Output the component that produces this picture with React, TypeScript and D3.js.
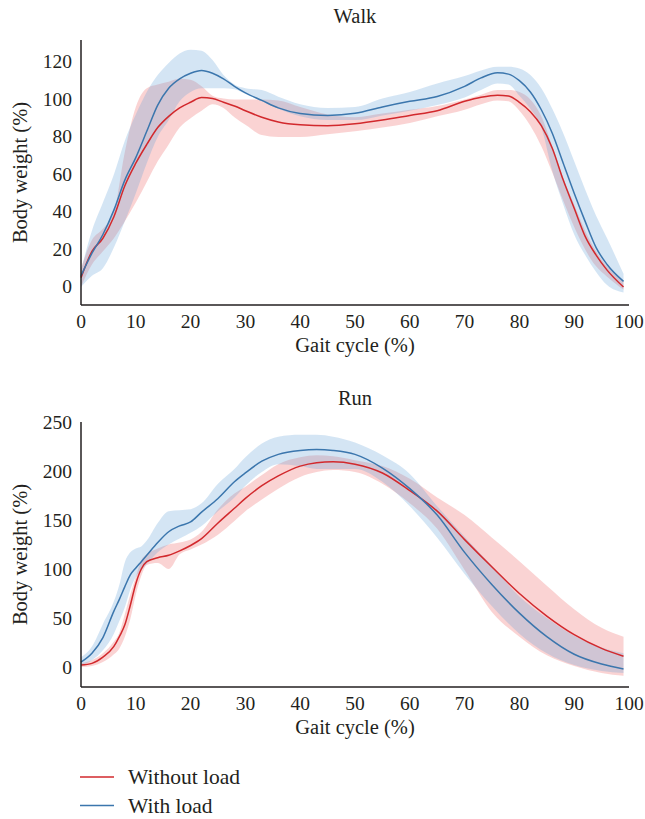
import React from "react";
import * as d3 from "d3";

// ---------- DATA ----------
const walkX = [0, 2, 4, 6, 8, 10, 12, 14, 16, 18, 20, 22, 24, 26, 28, 30, 33, 36, 40, 45, 50, 55, 60, 65, 70, 73, 76, 78, 80, 82, 84, 86, 88, 90, 92, 94, 96, 99];
const walkWithMean = [6, 18, 28, 41, 57, 69, 83, 97, 106, 111, 114, 115.5, 114, 111, 107, 103.5, 99.5, 95.5, 92.5, 91.5, 92.6, 96, 99, 101.6, 107, 111.5, 114.2, 113.5, 110, 104, 94.5, 82, 66, 50, 35, 21, 12, 3];
const walkWithUpper = [9, 30, 45, 60, 78, 92, 104, 113, 119.5, 124.5, 126.5, 126, 121, 113, 108, 106, 105, 101.5, 97.5, 95.5, 96, 100.5, 104, 108.5, 112.5, 115.5, 117.5, 117.5, 116.5, 113, 106, 95, 82, 67, 52, 38, 26, 7];
const walkWithLower = [0, 6, 10, 21, 35, 50, 66, 80, 89, 99, 104, 106, 106, 106, 105.5, 103, 99, 95, 91, 89, 89, 91.5, 94, 97, 101, 105, 108.5, 108, 102, 95, 85, 62, 44, 28, 17, 8, 1, -3];
const walkWithoutMean = [5, 19, 26, 37.5, 54, 66, 76, 85, 91, 95.5, 98.5, 101, 100.5, 98.5, 96.5, 94, 90.5, 88, 86.5, 86, 87, 89, 91.5, 94, 99, 101.2, 102.3, 101.8, 98.5, 93.5, 86, 74, 57, 42, 27, 17, 9, 0];
const walkWithoutUpper = [10, 25, 31, 40, 72, 96, 106, 108, 109.5, 111, 110.5, 107, 102, 100.5, 100, 100, 100, 99.5, 96, 92, 90.5, 92.5, 94.5, 96.5, 100, 102.5, 105, 105, 104, 100, 91, 75, 58, 44, 30, 19, 11, 3];
const walkWithoutLower = [0, 12, 19, 26, 35, 45, 56, 67, 76, 85, 90, 94, 97.5, 95.5, 90.5, 86.5, 81, 80, 80, 81.5, 83, 85, 87.5, 91, 94.5, 97.5, 99.5, 99, 94, 86, 75, 61, 46, 32, 20, 11, 5.5, -1.5];

const runX = [0, 2, 4, 6, 7, 8, 9, 10, 11, 12, 14, 16, 18, 20, 22, 25, 28, 30, 33, 36, 40, 43, 46, 50, 55, 60, 65, 70, 75, 80, 85, 90, 95, 99];
const runWithMean = [6, 15, 31, 58, 70, 83, 95, 102, 108.5, 115, 128, 139, 145, 149, 159, 173, 190, 199, 211, 218, 222, 223, 222, 218, 204, 183, 156, 118, 85, 56, 32, 14, 4, -1];
const runWithUpper = [11, 22, 45, 68, 85, 108, 118, 122, 124, 130, 148, 160, 161, 162, 168, 188, 203, 215, 229, 236, 238, 238, 236, 230, 217, 198, 165, 134, 104, 73, 51, 33, 21, 15];
const runWithLower = [3, 8, 18, 35, 48, 62, 80, 93, 100, 106, 118, 126, 132, 138, 145, 160, 174, 186, 200, 208, 206, 203, 203, 203, 190, 165, 133, 96, 63, 35, 15, 3, -3, -5];
const runWithoutMean = [3, 4.7, 11, 22, 32, 44, 64, 86, 101, 108.5, 112.5, 115, 119.5, 125, 132, 148, 163, 173, 186, 196, 206, 209.5, 210.5, 208, 199, 181, 160, 131, 103, 76, 53, 34, 20, 12];
const runWithoutUpper = [5, 8, 15, 27, 36, 55, 75, 93, 110, 116, 122, 126, 128, 131, 139, 162, 178, 185, 197, 208, 215, 217, 216, 212, 206, 193, 174, 156, 133, 109, 84, 60, 41, 32];
const runWithoutLower = [1, 2, 6, 14, 20, 32, 50, 75, 94, 105, 107, 101, 116, 121, 126, 136, 150, 160, 172, 183, 195, 200, 202, 200, 188, 168, 142, 100, 57, 32, 13, 2, -5, -8];

const xTicks = [0, 10, 20, 30, 40, 50, 60, 70, 80, 90, 100];
const walkYTicks = [0, 20, 40, 60, 80, 100, 120];
const runYTicks = [0, 50, 100, 150, 200, 250];

const seriesNames = ["Without load", "With load"];

// ---------- STYLE ----------
const RED = "#d2292d";
const BLUE = "#3b76ad";
const RED_FILL = "rgb(236,96,96)";
const BLUE_FILL = "rgb(100,160,215)";
const TEXT = "#231f20";
const FONT = "'Liberation Serif', 'Times New Roman', serif";

type PanelProps = {
  title: string;
  xs: number[];
  withMean: number[];
  withUpper: number[];
  withLower: number[];
  withoutMean: number[];
  withoutUpper: number[];
  withoutLower: number[];
  yDomain: [number, number];
  yTicks: number[];
  top: number;
  bottom: number;
};

const LEFT = 81;
const RIGHT = 629;

function Panel(p: PanelProps) {
  const x = d3.scaleLinear().domain([0, 100]).range([LEFT, RIGHT]);
  const y = d3.scaleLinear().domain(p.yDomain).range([p.bottom, p.top]);
  const idx = p.xs.map((_, i) => i);
  const area = (up: number[], lo: number[]) =>
    d3
      .area<number>()
      .x((i) => x(p.xs[i]))
      .y0((i) => y(lo[i]))
      .y1((i) => y(up[i]))
      .curve(d3.curveMonotoneX)(idx) || "";
  const line = (m: number[]) =>
    d3
      .line<number>()
      .x((i) => x(p.xs[i]))
      .y((i) => y(m[i]))
      .curve(d3.curveMonotoneX)(idx) || "";
  const midX = (LEFT + RIGHT) / 2;
  const midY = (p.top + p.bottom) / 2;
  return (
    <g>
      <path d={area(p.withoutUpper, p.withoutLower)} fill={RED_FILL} fillOpacity={0.28} />
      <path d={area(p.withUpper, p.withLower)} fill={BLUE_FILL} fillOpacity={0.28} />
      <path d={line(p.withoutMean)} fill="none" stroke={RED} strokeWidth={1.5} />
      <path d={line(p.withMean)} fill="none" stroke={BLUE} strokeWidth={1.5} />
      <line x1={LEFT} x2={LEFT} y1={p.top} y2={p.bottom} stroke={TEXT} strokeWidth={1.5} />
      <line x1={LEFT} x2={RIGHT} y1={p.bottom} y2={p.bottom} stroke={TEXT} strokeWidth={1.5} />
      {p.yTicks.map((t) => (
        <text key={"y" + t} x={72} y={y(t) + 6.5} textAnchor="end" fontSize={19.5} fill={TEXT}>
          {t}
        </text>
      ))}
      {xTicks.map((t) => (
        <text key={"x" + t} x={x(t)} y={p.bottom + 23} textAnchor="middle" fontSize={19.5} fill={TEXT}>
          {t}
        </text>
      ))}
      <text x={midX} y={p.top - 17} textAnchor="middle" fontSize={20.5} fill={TEXT}>
        {p.title}
      </text>
      <text x={midX} y={p.bottom + 47} textAnchor="middle" fontSize={20.5} fill={TEXT}>
        Gait cycle (%)
      </text>
      <text
        transform={`translate(27,${midY}) rotate(-90)`}
        textAnchor="middle"
        fontSize={20.5}
        fill={TEXT}
      >
        Body weight (%)
      </text>
    </g>
  );
}

export default function App() {
  return (
    <svg
      width={645}
      height={819}
      style={{ position: "absolute", left: 0, top: 0, background: "#fff" }}
      fontFamily={FONT}
    >
      <rect width={645} height={819} fill="#fff" />
      <Panel
        title="Walk"
        xs={walkX}
        withMean={walkWithMean}
        withUpper={walkWithUpper}
        withLower={walkWithLower}
        withoutMean={walkWithoutMean}
        withoutUpper={walkWithoutUpper}
        withoutLower={walkWithoutLower}
        yDomain={[-9.6, 131.7]}
        yTicks={walkYTicks}
        top={40}
        bottom={305}
      />
      <Panel
        title="Run"
        xs={runX}
        withMean={runWithMean}
        withUpper={runWithUpper}
        withLower={runWithLower}
        withoutMean={runWithoutMean}
        withoutUpper={runWithoutUpper}
        withoutLower={runWithoutLower}
        yDomain={[-19.4, 251]}
        yTicks={runYTicks}
        top={422}
        bottom={687}
      />
      {seriesNames.map((n, i) => (
        <g key={n}>
          <line x1={80} x2={114} y1={777 + i * 28.5} y2={777 + i * 28.5} stroke={i === 0 ? RED : BLUE} strokeWidth={1.5} />
          <text x={128} y={784 + i * 28.5} fontSize={21.5} fill={TEXT}>
            {n}
          </text>
        </g>
      ))}
    </svg>
  );
}
